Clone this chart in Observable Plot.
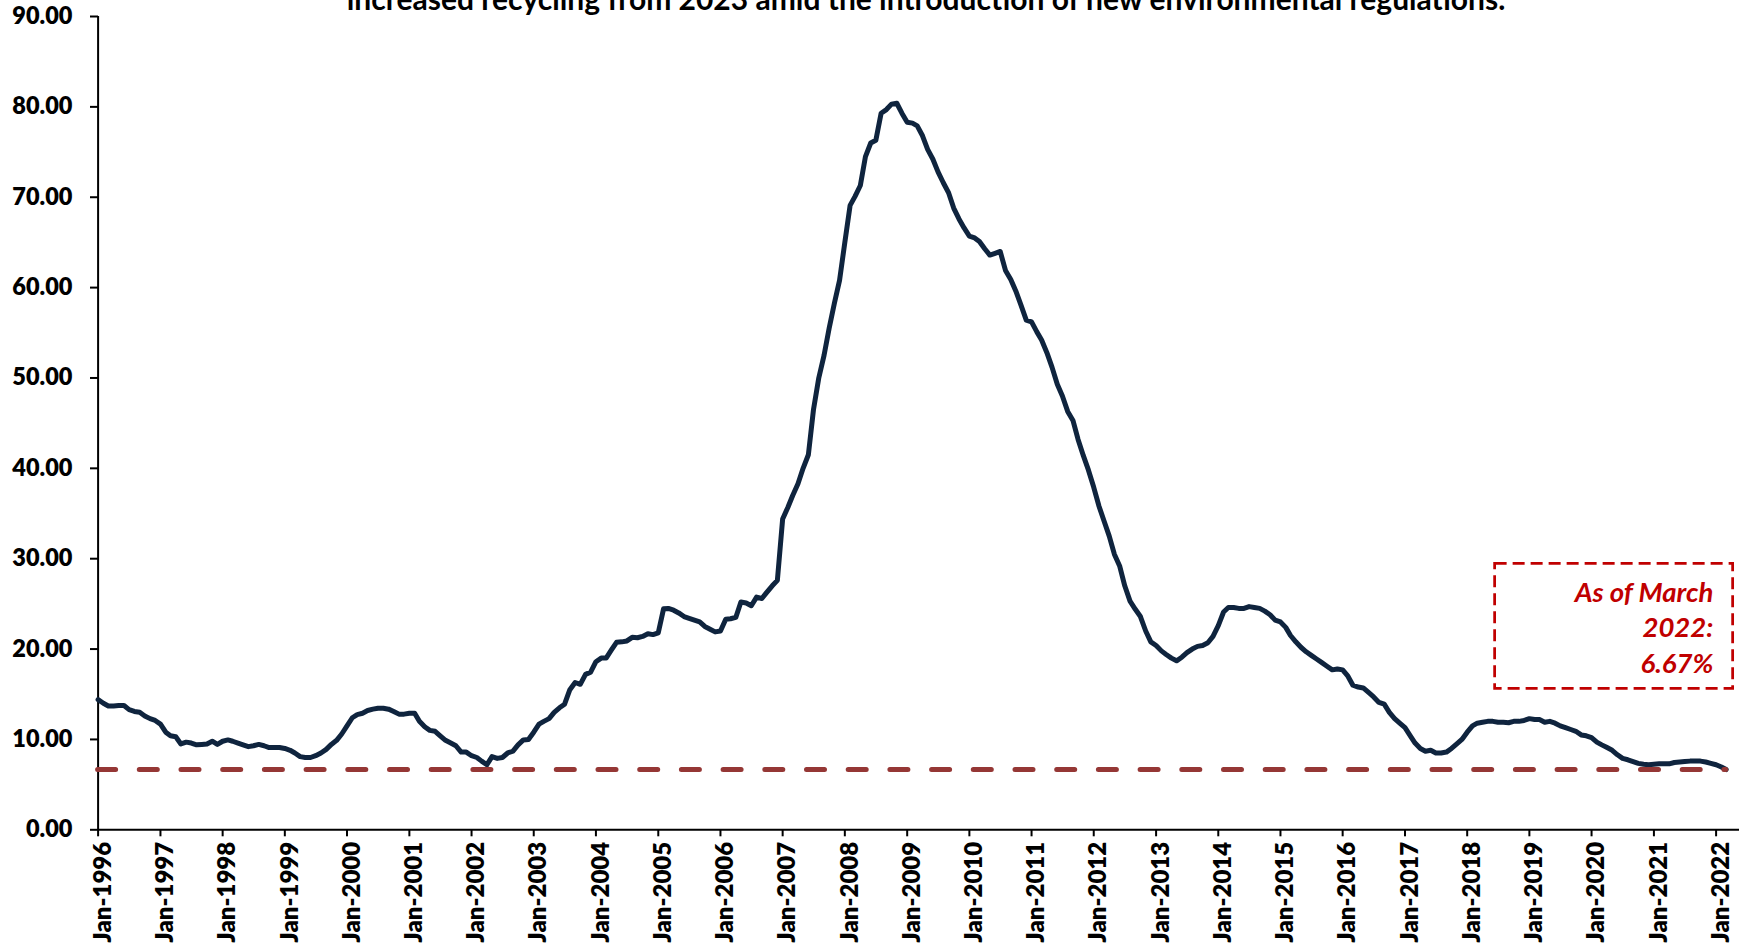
<!DOCTYPE html>
<html>
<head>
<meta charset="utf-8">
<script src="https://cdn.jsdelivr.net/npm/d3@7"></script>
<script src="https://cdn.jsdelivr.net/npm/@observablehq/plot@0.6"></script>
<style>
  html, body { margin: 0; padding: 0; overflow: hidden; background: #fff; }
  #chart svg { display: block; }
</style>
</head>
<body>
<div id="chart"></div>
<script>
// ---------- data ----------
const startYear = 1996;            // first month: Jan-1996, monthly to Mar-2022
const monthlyValues = [
  14.4, 14.0, 13.7, 13.7, 13.75, 13.75, 13.3, 13.1, 13.0, 12.6, 12.3, 12.1,   // 1996
  11.7, 10.8, 10.4, 10.3, 9.5, 9.7, 9.6, 9.4, 9.45, 9.5, 9.8, 9.45,            // 1997
  9.8, 9.95, 9.8, 9.6, 9.4, 9.2, 9.3, 9.45, 9.3, 9.1, 9.1, 9.1,                // 1998
  9.0, 8.8, 8.5, 8.1, 8.0, 8.0, 8.2, 8.5, 8.9, 9.45, 9.9, 10.6,                // 1999
  11.5, 12.4, 12.75, 12.9, 13.2, 13.35, 13.45, 13.45, 13.35, 13.1, 12.8, 12.8, // 2000
  12.9, 12.9, 12.0, 11.4, 11.0, 10.9, 10.4, 9.9, 9.6, 9.3, 8.6, 8.6,           // 2001
  8.2, 8.0, 7.6, 7.2, 8.1, 7.9, 8.0, 8.5, 8.7, 9.4, 9.95, 10.0,                // 2002
  10.8, 11.7, 12.0, 12.3, 13.0, 13.5, 13.9, 15.5, 16.3, 16.1, 17.2, 17.45,     // 2003
  18.6, 19.0, 19.0, 19.9, 20.75, 20.8, 20.9, 21.3, 21.25, 21.4, 21.7, 21.6,    // 2004
  21.8, 24.45, 24.5, 24.3, 24.0, 23.6, 23.4, 23.2, 23.0, 22.5, 22.2, 21.9,     // 2005
  22.0, 23.3, 23.35, 23.5, 25.2, 25.1, 24.8, 25.75, 25.6, 26.3, 27.0, 27.6,    // 2006
  34.4, 35.7, 37.0, 38.3, 40.0, 41.5, 46.5, 50.0, 52.5, 55.5, 58.3, 60.8,      // 2007
  65.0, 69.1, 70.1, 71.3, 74.5, 76.0, 76.3, 79.3, 79.7, 80.3, 80.4, 79.3,      // 2008
  78.3, 78.2, 77.9, 76.8, 75.3, 74.2, 72.8, 71.6, 70.5, 68.8, 67.6, 66.6,      // 2009
  65.7, 65.5, 65.1, 64.3, 63.6, 63.8, 64.0, 61.9, 60.9, 59.6, 58.0, 56.4,      // 2010
  56.2, 55.1, 54.2, 52.8, 51.2, 49.3, 48.0, 46.3, 45.3, 43.2, 41.4, 39.8,      // 2011
  37.9, 35.8, 34.2, 32.5, 30.5, 29.2, 27.0, 25.3, 24.4, 23.6, 22.0, 20.8,      // 2012
  20.4, 19.8, 19.4, 19.0, 18.7, 19.1, 19.6, 20.0, 20.3, 20.4, 20.7, 21.4,      // 2013
  22.6, 24.1, 24.6, 24.6, 24.5, 24.5, 24.7, 24.6, 24.5, 24.2, 23.8, 23.2,      // 2014
  23.0, 22.4, 21.5, 20.8, 20.2, 19.7, 19.3, 18.9, 18.5, 18.1, 17.7, 17.8,      // 2015
  17.7, 17.0, 16.0, 15.8, 15.7, 15.2, 14.7, 14.1, 13.9, 13.0, 12.3, 11.8,      // 2016
  11.3, 10.4, 9.6, 9.0, 8.7, 8.8, 8.5, 8.5, 8.6, 9.0, 9.5, 10.0,               // 2017
  10.8, 11.5, 11.8, 11.9, 12.0, 12.0, 11.9, 11.9, 11.85, 12.0, 12.0, 12.1,     // 2018
  12.3, 12.2, 12.2, 11.9, 12.0, 11.8, 11.5, 11.3, 11.1, 10.9, 10.5, 10.4,      // 2019
  10.2, 9.7, 9.4, 9.1, 8.8, 8.3, 7.9, 7.75, 7.55, 7.35, 7.25, 7.2,             // 2020
  7.25, 7.3, 7.3, 7.3, 7.45, 7.5, 7.55, 7.6, 7.6, 7.6, 7.5, 7.35,              // 2021
  7.2, 6.95, 6.67                                                              // 2022
];
const xTickYears = [1996, 1997, 1998, 1999, 2000, 2001, 2002, 2003, 2004, 2005, 2006, 2007, 2008,
                    2009, 2010, 2011, 2012, 2013, 2014, 2015, 2016, 2017, 2018, 2019, 2020, 2021, 2022];
const yTicks = [0, 10, 20, 30, 40, 50, 60, 70, 80, 90];
const referenceLevel = 6.67;
const titleText = "increased recycling from 2023 amid the introduction of new environmental regulations.";
const noteText = "As of March\n2022:\n6.67%";

// ---------- derived tables ----------
const utc = (y, m, d = 1) => new Date(Date.UTC(y, m, d));
const series = monthlyValues.map((v, i) => ({date: utc(startYear, i), value: v}));
const xStart = series[0].date;
const xEnd = series[series.length - 1].date;
const tickDates = xTickYears.map(y => utc(y, 0));

// annotation box placement (layout, in chart coordinates)
const noteBox = {x1: utc(2018, 5, 14), x2: utc(2022, 3, 11), yTop: 29.43, yBottom: 15.6};
const noteAnchor = {x: utc(2021, 11, 16), y: 22.55};

const navy = "#0F243E";
const dashRed = "#953735";
const noteRed = "#C00000";
const font = "Lato, 'Open Sans', 'DejaVu Sans', sans-serif";

const chart = Plot.plot({
  width: 1739,
  height: 947,
  marginLeft: 98,
  marginRight: 0,
  marginTop: 16,
  marginBottom: 117.7,
  style: {fontFamily: font, background: "#fff", color: "#000"},
  x: {type: "utc", domain: [tickDates[0], tickDates[tickDates.length - 1]], range: [97.6, 1715.6]},
  y: {domain: [0, 90], range: [829.3, 16]},
  marks: [
    Plot.axisY({ticks: yTicks, tickFormat: d3.format(".2f"), tickSize: 8, tickPadding: 18,
                fontSize: 23.5, fontWeight: 800, color: "#000", strokeWidth: 2, label: null}),
    // x tick marks
    Plot.axisX({ticks: tickDates, text: null, tickSize: 7, color: "#000", strokeWidth: 2, label: null}),
    // x tick labels (rotated)
    Plot.axisX({ticks: tickDates, tickFormat: d3.utcFormat("%b-%Y"), tickRotate: -90, tickSize: 0,
                tickPadding: 12, dx: 5, fontSize: 24, fontWeight: 800, color: "#000", label: null}),
    Plot.ruleX([xStart], {y1: 0, y2: 90, stroke: "#000", strokeWidth: 2}),
    Plot.ruleY([0], {stroke: "#000", strokeWidth: 2}),
    Plot.lineY(series, {x: "date", y: "value", stroke: navy, strokeWidth: 5,
                        strokeLinejoin: "round", strokeLinecap: "round"}),
    Plot.ruleY([referenceLevel], {x1: () => xStart, x2: () => xEnd, stroke: dashRed, strokeWidth: 5,
                                  strokeDasharray: "18,23.7", strokeLinecap: "round"}),
    Plot.rect([noteBox], {x1: d => d.x1, x2: d => d.x2, y1: d => d.yBottom, y2: d => d.yTop,
                          fill: "none", stroke: noteRed, strokeWidth: 2.75, strokeDasharray: "12,6"}),
    Plot.text([noteText], {x: () => noteAnchor.x, y: () => noteAnchor.y, text: d => d,
                           textAnchor: "end", lineAnchor: "middle", lineHeight: 1.3,
                           fontSize: 27.5, fontWeight: "bold", fontStyle: "italic", fill: noteRed}),
    Plot.text([titleText], {frameAnchor: "top", dx: 7, dy: -7, lineAnchor: "bottom", text: d => d,
                            fontSize: 24, fontWeight: "bold", fill: "#000"})
  ]
});

document.getElementById("chart").append(chart);

// fit the (cropped) title to the reference width
const titleEl = [...chart.querySelectorAll("text")].find(e => e.textContent === titleText);
if (titleEl) {
  const w = titleEl.getComputedTextLength();
  if (w > 0) titleEl.setAttribute("font-size", (24 * 1159 / w).toFixed(2));
}
</script>
</body>
</html>
